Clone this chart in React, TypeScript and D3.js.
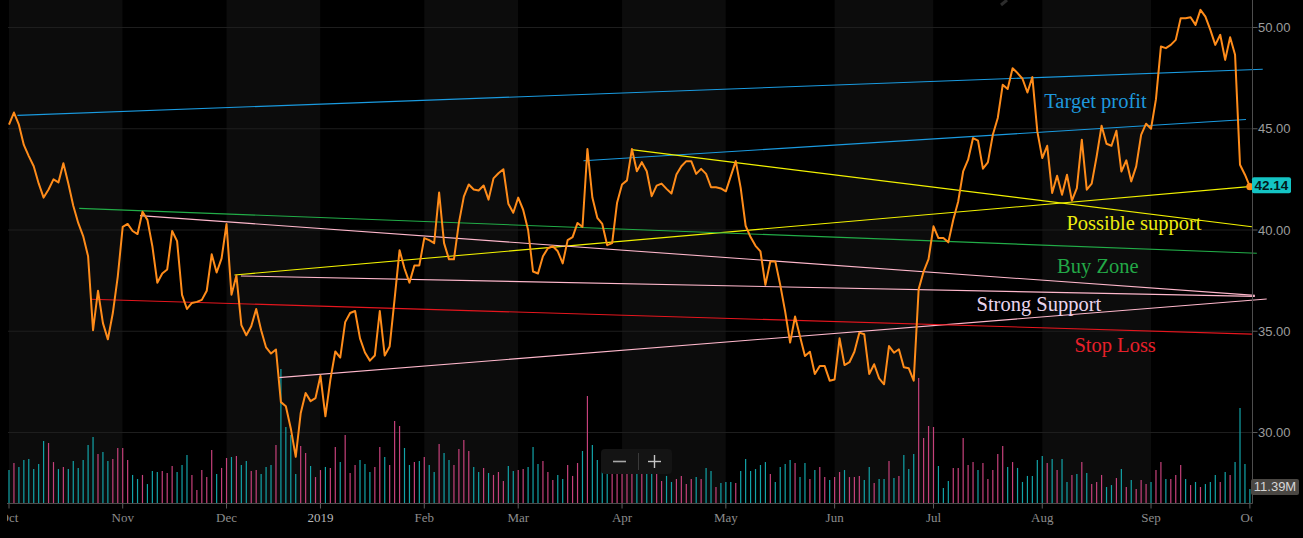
import * as d3 from 'd3';

// daily closes, Oct 1 2018 .. Oct 1 2019 (one per trading day)
const closes = [
  45.2, 45.8, 45.2, 44.2, 43.65, 43.15, 42.3, 41.6, 42.0, 42.5,
  42.35, 43.3, 42.3, 41.2, 40.35, 39.7, 38.7, 35.05, 37.0, 35.4,
  34.6, 35.9, 37.7, 40.15, 40.3, 39.95, 39.8, 40.9, 40.5, 39.2,
  37.4, 37.85, 38.05, 39.95, 39.45, 36.8, 36.1, 36.4, 36.45, 36.55,
  37.0, 38.8, 37.9, 38.6, 40.3, 36.8, 37.75, 35.3, 34.8, 35.25,
  36.1, 35.05, 34.2, 33.9, 34.1, 31.5, 31.3, 30.2, 28.8, 30.95,
  31.95, 31.55, 31.7, 32.8, 30.8, 32.6, 34.0, 33.7, 35.45, 35.9,
  36.0, 34.65, 33.95, 33.55, 33.8, 36.0, 33.8, 34.25, 36.6, 39.0,
  38.1, 37.4, 38.25, 38.25, 39.6, 39.5, 39.35, 41.85, 39.35, 38.55,
  38.55, 40.35, 41.65, 42.25, 42.0, 41.95, 42.2, 41.5, 42.55, 42.8,
  43.0, 41.3, 40.85, 41.6, 41.0, 40.0, 37.95, 37.85, 38.7, 39.1,
  39.2, 38.95, 38.35, 39.5, 39.65, 40.35, 40.15, 44.0, 41.6, 40.6,
  40.3, 39.25, 39.35, 41.35, 42.25, 42.45, 44.0, 42.9, 43.35, 42.9,
  41.67, 42.19, 42.29, 42.03, 41.8, 42.74, 43.15, 43.4, 43.4, 42.77,
  43.02, 42.77, 42.11, 42.11, 42.05, 41.91, 42.66, 43.4, 42.08, 40.21,
  39.65, 39.22, 38.94, 37.29, 38.45, 38.45, 37.29, 35.97, 34.44, 35.73,
  34.74, 33.78, 33.99, 32.89, 33.28, 33.28, 32.56, 32.62, 34.65, 33.33,
  33.47, 33.99, 34.93, 34.85, 32.89, 33.37, 32.67, 32.38, 34.27, 33.94,
  34.11, 33.22, 33.17, 32.56, 37.08, 37.95, 38.56, 40.18, 39.6, 39.61,
  39.39, 40.51, 41.41, 42.89, 43.47, 44.54, 44.41, 43.03, 43.34, 44.7,
  45.53, 47.17, 46.96, 47.99, 47.75, 47.47, 46.79, 47.55, 44.87, 43.55,
  44.16, 41.83, 42.68, 41.74, 42.73, 41.45, 42.07, 44.46, 41.99, 42.29,
  43.63, 45.15, 44.26, 44.16, 44.9, 42.89, 43.44, 42.4, 43.14, 44.7,
  45.25, 45.0, 46.46, 49.06, 48.98, 49.14, 49.39, 50.46, 50.46, 50.51,
  50.13, 50.87, 50.54, 49.88, 49.14, 49.64, 48.4, 49.52, 48.65, 43.22,
  42.73, 42.14,
];

// volume in millions
const volumes = [
  26.8, 32.5, 29.3, 35.0, 35.8, 27.6, 31.7, 50.4, 48.8, 33.3,
  27.6, 29.3, 27.6, 34.1, 28.5, 35.0, 47.2, 53.7, 39.8, 41.5,
  34.1, 35.8, 44.7, 44.7, 35.0, 22.8, 19.5, 22.8, 15.4, 26.0,
  25.2, 26.0, 24.4, 30.1, 25.2, 30.9, 39.0, 22.8, 10.6, 26.8,
  21.1, 43.1, 23.6, 28.5, 36.6, 37.4, 38.2, 30.9, 34.1, 26.0,
  26.8, 23.6, 29.3, 30.9, 47.2, 109.0, 61.8, 55.3, 23.6, 46.3,
  40.7, 30.1, 21.1, 26.8, 29.3, 28.5, 45.5, 33.3, 55.3, 24.4,
  30.9, 35.0, 31.7, 25.2, 29.3, 45.5, 37.4, 30.9, 66.7, 62.6,
  44.7, 30.9, 33.3, 34.1, 37.4, 30.9, 25.2, 48.0, 40.7, 35.0,
  30.9, 43.9, 51.2, 42.3, 29.3, 25.2, 28.5, 24.4, 22.8, 25.2,
  17.9, 30.1, 26.0, 26.8, 27.6, 29.3, 45.5, 31.7, 34.1, 25.2,
  18.7, 22.8, 19.5, 30.9, 22.0, 32.5, 42.3, 87.0, 47.2, 35.0,
  26.8, 29.3, 25.2, 27.6, 30.9, 26.0, 28.5, 32.5, 26.0, 29.3,
  26.8, 30.9, 17.9, 22.0, 17.1, 19.5, 22.0, 15.4, 19.5, 21.1,
  19.5, 28.5, 26.0, 13.0, 16.3, 17.1, 17.1, 16.3, 26.0, 35.8,
  26.0, 27.6, 30.9, 33.3, 23.6, 17.1, 29.3, 31.7, 35.0, 32.5,
  21.1, 32.5, 19.5, 26.8, 29.3, 21.1, 18.7, 21.1, 25.2, 26.8,
  21.1, 21.1, 22.0, 18.7, 29.3, 16.3, 19.5, 19.5, 34.1, 20.3,
  22.0, 39.0, 27.6, 39.8, 101.6, 52.8, 62.6, 61.8, 30.1, 12.2,
  17.9, 28.5, 28.5, 52.8, 30.9, 33.3, 26.8, 32.5, 19.5, 26.8,
  39.8, 46.3, 29.3, 33.3, 28.5, 17.1, 22.0, 22.0, 35.0, 38.2,
  32.5, 35.8, 26.8, 35.8, 17.1, 22.8, 23.6, 33.3, 24.4, 15.4,
  17.1, 22.8, 13.0, 14.6, 20.3, 27.6, 13.0, 18.7, 11.4, 18.7,
  15.4, 17.1, 26.8, 33.3, 19.5, 19.5, 22.8, 30.9, 19.5, 14.6,
  17.1, 13.0, 15.4, 17.1, 22.8, 17.1, 25.2, 22.8, 33.3, 77.2,
  31.7, 11.39,
];

// u = up candle (teal), d = down candle (pink)
const volumeSide = [
  'uduuuuuudd', 'uduuuuuudu', 'udddduuduu', 'uddduuuddd', 'ddudduduud',
  'duuuduuuud', 'dudduddudd', 'duuudduddd', 'uududuuduu', 'dddduududd',
  'duudduuudd', 'duuddduduu', 'uudddddudu', 'udduuddddu', 'duuduuuduu',
  'uuuuduuuud', 'uududduddu', 'ddduuduudu', 'duuudddduu', 'uddddduddd',
  'dduduuuuuu', 'duduududud', 'dduudududd', 'duddudddud', 'uduuududuu',
  'uu',
].join('');

const monthStarts = [0, 23, 44, 63, 84, 103, 124, 145, 167, 187, 209, 231, 251];
const monthLabels = ['Oct', 'Nov', 'Dec', '2019', 'Feb', 'Mar', 'Apr', 'May', 'Jun', 'Jul', 'Aug', 'Sep', 'Oct'];
const priceTicks = [30, 35, 40, 45, 50];

// drawn trend lines: [start index, start price, end index, end price]
const targetLines = [
  [1.7, 45.66, 253.6, 47.94],
  [116.2, 43.42, 250.2, 45.46],
];
const supportLines = [
  [125.9, 43.97, 251.4, 40.16],
  [45.6, 37.78, 250.8, 42.14],
];
const buyLines = [[14.2, 41.07, 252.4, 38.85]];
const strongLines = [
  [26.5, 40.71, 252.0, 36.77],
  [46.9, 37.73, 252.0, 36.72],
  [54.5, 32.71, 254.4, 36.59],
];
const stopLines = [[16.5, 36.58, 251.4, 34.86]];

// text notes anchored at [index, price]
const noteTexts = ['Target profit', 'Possible support', 'Buy Zone', 'Strong Support', 'Stop Loss'];
const noteAnchors = [
  [209.4, 46.04],
  [213.9, 40.0],
  [212.0, 37.86],
  [195.7, 36.01],
  [215.5, 33.99],
];

const lastVolumeLabel = '11.39M';

export default function App() {
  const width = 1303;
  const height = 538;
  const axisX = 1252.5;
  const baseY = 503.5;

  const x = d3.scaleLinear().domain([0, 251]).range([9, 1249.9]);
  const y = d3.scaleLinear().domain([30, 50]).range([432.5, 27.5]);
  const yVol = d3.scaleLinear().domain([0, 100]).range([503, 380]);

  const pricePath = d3.line<number>()
    .x((_, i) => x(i))
    .y(d => y(d))(closes) || '';

  const groups = [
    { lines: targetLines, color: '#1a9be0' },
    { lines: supportLines, color: '#f2f200' },
    { lines: buyLines, color: '#22ad48' },
    { lines: strongLines, color: '#ffb8cc' },
    { lines: stopLines, color: '#e6161e' },
  ];
  const noteColors = ['#1e98dc', '#ecec10', '#23a847', '#ead4ee', '#e8202a'];

  const last = closes.length - 1;
  const lastVol = volumes[volumes.length - 1];
  const lastY = y(closes[last]);

  return (
    <div style={{ position: 'fixed', left: 0, top: 0 }}>
      <svg width={width} height={height} style={{ display: 'block', background: '#000' }}>
        <defs>
          <clipPath id="monthClip">
            <rect x={7} y={505} width={axisX - 7} height={33} />
          </clipPath>
        </defs>

        {/* month bands */}
        {monthStarts.slice(0, -1).map((m, k) => (
          <rect
            key={'band' + k}
            x={x(m)}
            y={0}
            width={x(monthStarts[k + 1]) - x(m)}
            height={baseY}
            fill={k % 2 === 0 ? '#0c0c0c' : '#000'}
          />
        ))}

        {/* grid */}
        {priceTicks.map(p => (
          <line key={'g' + p} x1={8} x2={axisX} y1={y(p)} y2={y(p)} stroke="#1e1e1e" strokeWidth={1} />
        ))}

        {/* volume */}
        {volumes.map((v, i) => (
          <line
            key={'v' + i}
            x1={x(i)}
            x2={x(i)}
            y1={yVol(0)}
            y2={yVol(v)}
            stroke={volumeSide[i] === 'u' ? '#12a3a8' : '#c6417b'}
            strokeWidth={1.2}
          />
        ))}

        {/* watermark fragment */}
        <line x1={1007} y1={0} x2={1001} y2={5} stroke="#2c2c2c" strokeWidth={3} />

        {/* trend lines */}
        {groups.map((g, gi) =>
          g.lines.map((l, li) => (
            <line
              key={'t' + gi + '-' + li}
              x1={x(l[0])}
              y1={y(l[1])}
              x2={x(l[2])}
              y2={y(l[3])}
              stroke={g.color}
              strokeWidth={1.1}
            />
          ))
        )}

        {/* price */}
        <path d={pricePath} fill="none" stroke="#ff8c1a" strokeWidth={2} strokeLinejoin="round" />
        <circle cx={x(last)} cy={lastY} r={3.6} fill="#ff8c1a" />

        {/* notes */}
        {noteTexts.map((t, i) => (
          <text
            key={'n' + i}
            x={x(noteAnchors[i][0])}
            y={y(noteAnchors[i][1])}
            fill={noteColors[i]}
            fontFamily="'Liberation Serif', 'DejaVu Serif', serif"
            fontSize={20.5}
          >
            {t}
          </text>
        ))}

        {/* axes */}
        <line x1={axisX} x2={axisX} y1={0} y2={baseY} stroke="#4d4d4d" />
        <line x1={7} x2={axisX} y1={baseY} y2={baseY} stroke="#4d4d4d" />
        {priceTicks.map(p => (
          <g key={'yt' + p}>
            <line x1={axisX} x2={axisX + 5} y1={y(p)} y2={y(p)} stroke="#5a5a5a" />
            <text
              x={1258}
              y={y(p) + 4.5}
              fill="#9c9c9c"
              fontFamily="'Liberation Sans', Arial, sans-serif"
              fontSize={13}
            >
              {p.toFixed(2)}
            </text>
          </g>
        ))}
        {monthStarts.map((m, k) => (
          <line key={'mt' + k} x1={x(m)} x2={x(m)} y1={baseY} y2={baseY + 5} stroke="#5a5a5a" />
        ))}
        <g clipPath="url(#monthClip)">
          {monthStarts.map((m, k) => (
            <text
              key={'ml' + k}
              x={x(m)}
              y={522}
              textAnchor="middle"
              fill={monthLabels[k] === '2019' ? '#b8b8b8' : '#8c8c8c'}
              fontFamily="'Liberation Serif', 'DejaVu Serif', serif"
              fontSize={13}
            >
              {monthLabels[k]}
            </text>
          ))}
        </g>

        {/* last price bubble */}
        <rect x={1252} y={lastY - 9.5} width={39} height={16} rx={2} fill="#14c4c4" />
        <text
          x={1271.5}
          y={lastY + 3.5}
          textAnchor="middle"
          fill="#031a1a"
          fontFamily="'Liberation Sans', Arial, sans-serif"
          fontSize={13.5}
          fontWeight={700}
        >
          {closes[last].toFixed(2)}
        </text>

        {/* last volume bubble */}
        <rect x={1251} y={yVol(lastVol) - 10} width={48} height={16} rx={2} fill="#4a4743" />
        <text
          x={1275}
          y={yVol(lastVol) + 2.5}
          textAnchor="middle"
          fill="#d6d6d6"
          fontFamily="'Liberation Sans', Arial, sans-serif"
          fontSize={13}
        >
          {lastVolumeLabel}
        </text>

        {/* zoom control */}
        <rect x={601} y={449} width={71} height={25} rx={4} fill="#141414" />
        <line x1={613} x2={626} y1={461.5} y2={461.5} stroke="#a8a8a8" strokeWidth={1.6} />
        <line x1={638.5} x2={638.5} y1={453} y2={470} stroke="#3a3a3a" />
        <line x1={648} x2={661} y1={461.5} y2={461.5} stroke="#c4c4c4" strokeWidth={1.4} />
        <line x1={654.5} x2={654.5} y1={455} y2={468} stroke="#c4c4c4" strokeWidth={1.4} />
      </svg>
    </div>
  );
}
